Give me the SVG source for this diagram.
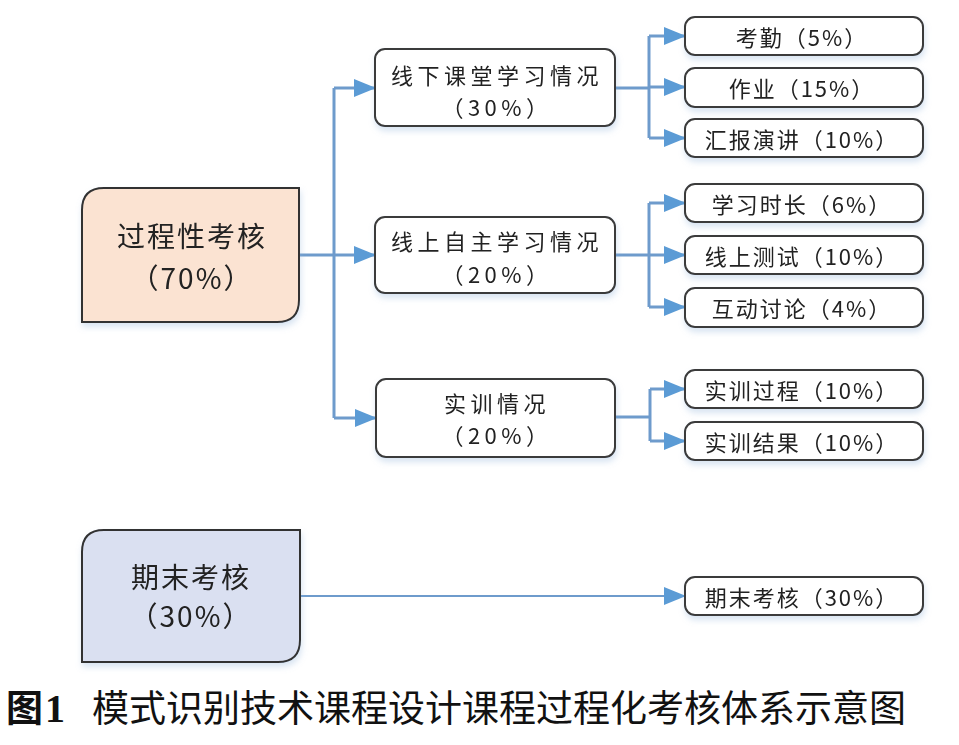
<svg xmlns="http://www.w3.org/2000/svg" width="959" height="745" viewBox="0 0 959 745">
<defs>
<marker id="arr" markerUnits="userSpaceOnUse" markerWidth="22" markerHeight="18" refX="21" refY="9" orient="auto">
<path d="M0,0 L22,9 L0,18 Z" fill="#5b9bd5"/>
</marker>
<filter id="sh" x="-10%" y="-10%" width="120%" height="140%">
<feDropShadow dx="1" dy="4" stdDeviation="3" flood-color="#8fb0d8" flood-opacity="0.35"/>
</filter>
<style>
.box{fill:#ffffff;stroke:#3a3a3a;stroke-width:2}
.t{font-family:"Noto Sans CJK SC","Noto Sans",sans-serif;fill:#222;text-anchor:middle;dominant-baseline:central}
.s{font-size:22px;letter-spacing:2px}
.m{font-size:22px;letter-spacing:4.5px}
.b{font-size:28px;letter-spacing:2px}
.c{fill:none;stroke:#6e9bcc;stroke-width:3}
.cap{font-family:"Noto Sans CJK SC",sans-serif;font-size:37px;fill:#111}
</style>
</defs>
<rect width="959" height="745" fill="#ffffff"/>

<g id="connectors">
<path class="c" d="M299,255 H334"/>
<path class="c" d="M334,88 V418"/>
<path class="c" d="M334,88 H375" marker-end="url(#arr)"/>
<path class="c" d="M334,255 H375" marker-end="url(#arr)"/>
<path class="c" d="M334,418 H376" marker-end="url(#arr)"/>

<path class="c" d="M615,88 H649"/>
<path class="c" d="M649,36 V138"/>
<path class="c" d="M649,36 H685" marker-end="url(#arr)"/>
<path class="c" d="M649,87 H685" marker-end="url(#arr)"/>
<path class="c" d="M649,138 H685" marker-end="url(#arr)"/>

<path class="c" d="M615,255 H649"/>
<path class="c" d="M649,203 V307"/>
<path class="c" d="M649,203 H685" marker-end="url(#arr)"/>
<path class="c" d="M649,255 H685" marker-end="url(#arr)"/>
<path class="c" d="M649,307 H685" marker-end="url(#arr)"/>

<path class="c" d="M615,417 H650"/>
<path class="c" d="M650,389 V441"/>
<path class="c" d="M650,389 H685" marker-end="url(#arr)"/>
<path class="c" d="M650,441 H685" marker-end="url(#arr)"/>

<path class="c" style="stroke-width:2" d="M300,596 H685" marker-end="url(#arr)"/>
</g>

<g id="node-process" filter="url(#sh)">
<path d="M82,210 Q82,188 104,188 H299 V300 Q299,322 277,322 H82 Z" fill="#fbe3d2" stroke="#333" stroke-width="2"/>
<text class="t b" x="192" y="235">过程性考核</text>
<text class="t b" x="192" y="277">（70%）</text>
</g>

<g id="node-final" filter="url(#sh)">
<path d="M82,552 Q82,530 104,530 H300 V640 Q300,662 278,662 H82 Z" fill="#dae0f1" stroke="#333" stroke-width="2"/>
<text class="t b" x="191" y="576">期末考核</text>
<text class="t b" x="191" y="615">（30%）</text>
</g>

<g id="node-offline" filter="url(#sh)">
<rect class="box" x="375" y="49" width="240" height="77" rx="10"/>
<text class="t m" x="497" y="74">线下课堂学习情况</text>
<text class="t m" x="497" y="106">（30%）</text>
</g>

<g id="node-online" filter="url(#sh)">
<rect class="box" x="375" y="217" width="240" height="76" rx="10"/>
<text class="t m" x="497" y="240">线上自主学习情况</text>
<text class="t m" x="497" y="273">（20%）</text>
</g>

<g id="node-training" filter="url(#sh)">
<rect class="box" x="376" y="379" width="239" height="78" rx="10"/>
<text class="t m" x="497" y="402">实训情况</text>
<text class="t m" x="497" y="434">（20%）</text>
</g>

<g id="node-attendance" filter="url(#sh)">
<rect class="box" x="685" y="17" width="238" height="38" rx="10"/>
<text class="t s" x="802" y="36">考勤（5%）</text>
</g>
<g id="node-homework" filter="url(#sh)">
<rect class="box" x="685" y="68" width="238" height="39" rx="10"/>
<text class="t s" x="802" y="87">作业（15%）</text>
</g>
<g id="node-presentation" filter="url(#sh)">
<rect class="box" x="685" y="119" width="238" height="38" rx="10"/>
<text class="t s" x="802" y="138">汇报演讲（10%）</text>
</g>
<g id="node-studytime" filter="url(#sh)">
<rect class="box" x="685" y="184" width="238" height="38" rx="10"/>
<text class="t s" x="802" y="203">学习时长（6%）</text>
</g>
<g id="node-onlinetest" filter="url(#sh)">
<rect class="box" x="685" y="236" width="238" height="38" rx="10"/>
<text class="t s" x="802" y="255">线上测试（10%）</text>
</g>
<g id="node-discussion" filter="url(#sh)">
<rect class="box" x="685" y="288" width="238" height="39" rx="10"/>
<text class="t s" x="802" y="307">互动讨论（4%）</text>
</g>
<g id="node-trainprocess" filter="url(#sh)">
<rect class="box" x="685" y="370" width="238" height="38" rx="10"/>
<text class="t s" x="802" y="389">实训过程（10%）</text>
</g>
<g id="node-trainresult" filter="url(#sh)">
<rect class="box" x="685" y="422" width="238" height="38" rx="10"/>
<text class="t s" x="802" y="441">实训结果（10%）</text>
</g>
<g id="node-finalexam" filter="url(#sh)">
<rect class="box" x="685" y="577" width="238" height="38" rx="10"/>
<text class="t s" x="802" y="596">期末考核（30%）</text>
</g>

<g id="caption">
<text class="cap" x="6" y="722" font-weight="bold">图</text>
<text x="45" y="722" font-family="Liberation Serif, serif" font-weight="bold" font-size="40" fill="#111">1</text>
<text class="cap" x="92" y="722">模式识别技术课程设计课程过程化考核体系示意图</text>
</g>
</svg>
